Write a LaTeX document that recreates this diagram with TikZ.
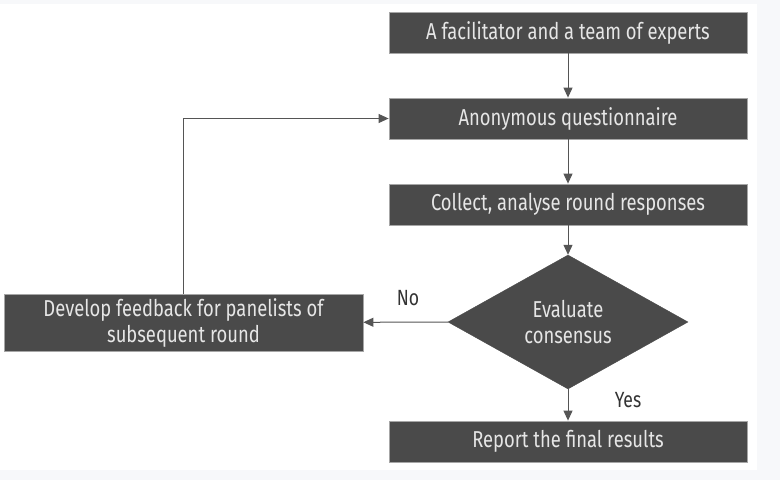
\documentclass[tikz,border=0pt]{standalone}
\usepackage{fontspec}
\setmainfont[FakeStretch=0.8]{Fira Sans}
\usetikzlibrary{shapes.geometric,arrows.meta}
\definecolor{boxfill}{HTML}{4A4A4A}
\definecolor{boxtext}{HTML}{E6E6E6}
\definecolor{linecol}{HTML}{555555}
\definecolor{outerbg}{HTML}{F7F8FA}
\begin{document}
\begin{tikzpicture}[x=1pt,y=-1pt,
  stepbox/.style={draw=gray!70,line width=0.8pt,fill=boxfill,text=boxtext,
    minimum width=358pt,minimum height=41pt,inner sep=0pt,
    font=\fontsize{23}{26}\selectfont,align=center},
  decide/.style={diamond,draw=boxfill,fill=boxfill,text=boxtext,inner sep=0pt,
    minimum width=240pt,minimum height=134pt,font=\fontsize{23}{26}\selectfont,align=center},
  conn/.style={draw=linecol,line width=1pt,-{Triangle[length=10pt,width=9pt]}},
  lbl/.style={text=black!80,font=\fontsize{22}{24}\selectfont}]
\fill[outerbg] (0,0) rectangle (780,480);
\fill[white] (0,4) rectangle (757,470);
\useasboundingbox (0,0) rectangle (780,480);
\node[stepbox] (a) at (568,32.5) {A facilitator and a team of experts};
\node[stepbox] (b) at (568,118.5) {Anonymous questionnaire};
\node[stepbox] (c) at (568,204.5) {Collect, analyse round responses};
\node[decide] (d) at (568,322) {Evaluate\\consensus};
\node[stepbox,minimum width=359pt,minimum height=57pt] (f) at (183.5,322.5) {Develop feedback for panelists of\\subsequent round};
\node[stepbox] (e) at (568,441.5) {Report the final results};
\coordinate (corner) at (183,118.5);
\draw[conn] (a) -- (b);
\draw[conn] (b) -- (c);
\draw[conn] (c) -- (d);
\draw[conn] (d) -- (e);
\draw[conn] (d) -- (f);
\draw[conn] (f.north -| corner) -- (corner) -- (b.west);
\node[lbl] (no) at (408,298) {No};
\node[lbl] (yes) at (628,400) {Yes};
\end{tikzpicture}
\end{document}
